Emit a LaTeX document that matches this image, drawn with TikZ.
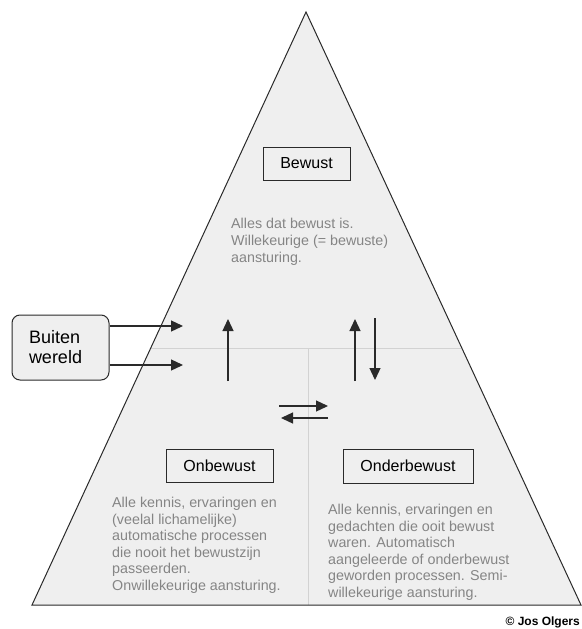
\documentclass[tikz,border=0pt]{standalone}
\usepackage{fontspec}
\setmainfont{Liberation Sans}
\usetikzlibrary{arrows.meta,calc}
\definecolor{pyrfill}{HTML}{EFEFEF}
\definecolor{divline}{HTML}{D2D2D2}
\definecolor{greytext}{HTML}{858585}
\definecolor{inkc}{HTML}{2A2A2A}
\tikzset{
  lvlbox/.style={draw=inkc, line width=1pt, fill=pyrfill, inner sep=0pt, font=\fontsize{16}{18}\selectfont},
  desc/.style={anchor=north west, inner sep=0pt, align=left, text=greytext, font=\fontsize{14.3}{16.6}\selectfont},
  flow/.style={draw=inkc, line width=1.3pt, -{Triangle[length=12pt,width=11pt]}},
}
\begin{document}
\begin{tikzpicture}[x=1pt,y=-1pt]
\useasboundingbox (0,0) rectangle (581,629);
% pyramid
\coordinate (apex) at (306,12);
\coordinate (bl) at (32,605);
\coordinate (br) at (581,605);
\fill[pyrfill] (apex) -- (bl) -- (br) -- cycle;
\coordinate (hl) at ($(apex)!0.5666!(bl)$);
\coordinate (hr) at ($(apex)!0.5666!(br)$);
\coordinate (vt) at (308,348);
\coordinate (vb) at (308,605);
\draw[divline, line width=0.7pt] (hl) -- (hr);
\draw[divline, line width=0.7pt] (vt) -- (vb);
\draw[inkc, line width=1pt, line join=miter] (apex) -- (bl) -- (br) -- cycle;

% level boxes
\node[lvlbox, minimum width=87pt, minimum height=33pt] (bewust) at (306.5,163.5) {Bewust};
\node[lvlbox, minimum width=107pt, minimum height=33pt] (onbewust) at (219.5,465.5) {Onbewust};
\node[lvlbox, minimum width=130pt, minimum height=34pt] (onderbewust) at (408,466) {Onderbewust};

% descriptions
\node[desc, font=\fontsize{14.3}{17}\selectfont] (dbewust) at (231,218) {Alles dat bewust is.\\Willekeurige (= bewuste)\\aansturing.};
\node[desc] (donbewust) at (112,497) {Alle kennis, ervaringen en\\(veelal lichamelijke)\\automatische processen\\die nooit het bewustzijn\\passeerden.\\Onwillekeurige aansturing.};
\node[desc] (donderbewust) at (328,504) {Alle kennis, ervaringen en\\gedachten die ooit bewust\\waren. Automatisch\\aangeleerde of onderbewust\\geworden processen. Semi-\\willekeurige aansturing.};

% outside world
\node[draw=inkc, line width=1pt, fill=pyrfill, rounded corners=8pt, text width=63pt, inner xsep=17pt, minimum height=65pt, inner ysep=0pt, align=left, font=\fontsize{18}{20}\selectfont] (buiten) at (60.5,347.5) {Buiten\\wereld};
\coordinate (in1) at (183,326);
\coordinate (in2) at (183,365);
\draw[flow] (buiten.east |- in1) -- (in1);
\draw[flow] (buiten.east |- in2) -- (in2);

% vertical arrows
\coordinate (ua1) at (228,381);
\coordinate (ua2) at (228,319);
\draw[flow] (ua1) -- (ua2);
\coordinate (ub1) at (355,381);
\coordinate (ub2) at (355,319);
\draw[flow] (ub1) -- (ub2);
\coordinate (dc1) at (375,318);
\coordinate (dc2) at (375,380);
\draw[flow] (dc1) -- (dc2);

% horizontal exchange arrows
\coordinate (ra1) at (279,406);
\coordinate (ra2) at (328,406);
\draw[flow] (ra1) -- (ra2);
\coordinate (la1) at (328,418);
\coordinate (la2) at (281,418);
\draw[flow] (la1) -- (la2);

% copyright
\node[anchor=east, inner sep=0pt, font=\fontsize{12}{14}\selectfont\bfseries] (copy) at (580,622) {© Jos Olgers};
\end{tikzpicture}
\end{document}
